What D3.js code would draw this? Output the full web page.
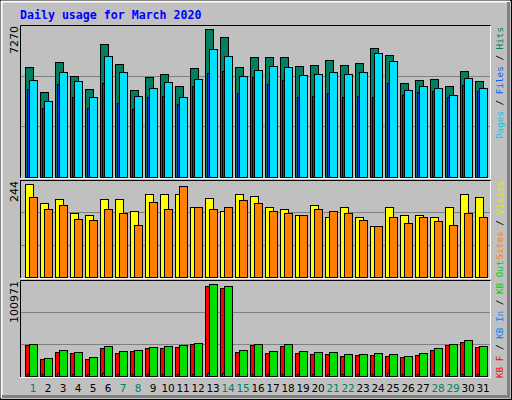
<!DOCTYPE html>
<html><head><meta charset="utf-8">
<script src="https://cdn.jsdelivr.net/npm/d3@7"></script>
<style>body{margin:0;background:#fff}svg{display:block}</style>
</head><body><div id="chart"></div>
<script>
const days = d3.range(1, 32);
const weekend = [1, 7, 8, 14, 15, 21, 22, 28, 29];
const hits = [5261,4066,5500,4831,4209,6361,5405,4161,4783,4926,4352,5213,7079,6696,5261,5740,5740,5740,5309,5357,5596,5357,5453,6170,5835,4496,4639,4687,4352,5070,4592];
const files = [4639,3635,5022,4592,3826,5787,5022,3874,4257,4544,3826,4687,6122,5787,4831,5118,5309,5261,4879,4926,5022,4926,5022,5931,5548,4161,4352,4257,3922,4735,4257];
const pages = [4209,3300,4448,3826,3300,4496,3539,3252,3826,3874,3492,4352,4974,5070,4018,4783,4448,4639,3826,3874,4018,3826,3874,3826,4496,3922,4066,4113,3826,4400,4113];
const visits = [233,185,195,162,155,195,195,167,208,210,210,177,198,165,208,203,175,172,157,180,150,175,152,129,175,155,155,152,177,208,200];
const sites = [200,172,182,147,144,172,162,132,188,172,228,175,170,175,193,185,167,160,157,172,167,162,144,129,150,137,150,142,132,162,150];
const kbF = [33000,18100,25500,24400,18100,29800,24400,26600,29800,29800,30800,34000,94600,92500,25500,33000,24400,31900,24400,23400,23400,21300,22300,22300,21300,20200,22300,27600,33000,36100,30800];
const kbIn = [2500,2000,3000,2000,2000,3000,2000,2000,2000,2000,2000,2000,3000,3000,2000,2000,2500,2000,2000,2000,2000,2000,2000,2000,3000,2000,2000,2000,2000,2000,2000];
const kbOut = [34000,19100,27600,25500,20200,31900,26600,27600,30800,31900,32900,35100,96700,94600,27600,34000,26600,34000,26600,25500,25500,23400,23400,24400,23400,21300,24400,29800,34000,38300,31900];
const maxLabels = ["7270", "244", "100971"];

const W = 512, H = 400;
const svg = d3.select("#chart").append("svg").attr("width", W).attr("height", H);

// outer frame
svg.append("rect").attr("width", W).attr("height", H).attr("fill", "#c0c0c0");
svg.append("rect").attr("x", 0.5).attr("y", 0.5).attr("width", W - 1).attr("height", H - 1).attr("fill", "none").attr("stroke", "#000");
svg.append("path").attr("d", `M1.5,${H - 2}V1.5H${W - 2}`).attr("fill", "none").attr("stroke", "#fff").attr("stroke-width", 2);
svg.append("path").attr("d", `M${W - 3.5},2V${H - 3.5}H2`).attr("fill", "none").attr("stroke", "#808080").attr("stroke-width", 3);

svg.append("text").attr("x", 20).attr("y", 19)
  .attr("font-family", "DejaVu Sans Mono").attr("font-weight", "bold").attr("font-size", 11.6)
  .attr("fill", "#0000ff").text("Daily usage for March 2020");

const x = d3.scaleLinear().domain([1, 31]).range([25, 475]);

// legend: anchor "end" reads down to pos, "start" reads up from pos
const panels = [
  { top: 25, bottom: 178, max: 7270, label: maxLabels[0], lpos: 27, anchor: "end",
    series: [[hits, "#008060", 0, 8], [pages, "#0040ff", 2, 4], [files, "#00e0ff", 4, 8]],
    legend: [["Pages", "#00c8f0"], [" / ", "#000"], ["Files", "#0060ff"], [" / ", "#000"], ["Hits", "#008060"]] },
  { top: 180, bottom: 278, max: 244, label: maxLabels[1], lpos: 181, anchor: "end",
    series: [[visits, "#ffff00", 0, 8], [sites, "#ff8000", 4, 8]],
    legend: [["Sites", "#ff8000"], [" / ", "#000"], ["Visits", "#e8e800"]] },
  { top: 280, bottom: 377, max: 100971, label: maxLabels[2], lpos: 378, anchor: "start",
    series: [[kbF, "#ff0000", 0, 8], [kbIn, "#0080ff", 2, 3], [kbOut, "#00e000", 4, 8]],
    legend: [["KB F", "#ff0000"], [" / ", "#000"], ["KB In", "#0080ff"], [" / ", "#000"], ["KB Out", "#00d000"]] }
];

panels.forEach(p => {
  const y = d3.scaleLinear().domain([0, p.max]).range([p.bottom - 1, p.top]);
  const g = svg.append("g");
  g.append("path").attr("d", `M20.5,${p.bottom}V${p.top + 0.5}H490.5`).attr("fill", "none").attr("stroke", "#000");
  g.append("path").attr("d", `M490.5,${p.top + 1}V${p.bottom + 0.5}H20`).attr("fill", "none").attr("stroke", "#fff");
  [1 / 3, 2 / 3].forEach(f => {
    g.append("line").attr("x1", 21).attr("x2", 490)
      .attr("y1", Math.round(y(p.max * f)) + 0.5).attr("y2", Math.round(y(p.max * f)) + 0.5)
      .attr("stroke", "#808080");
  });
  p.series.forEach(([vals, color, off, w]) => {
    g.selectAll(null).data(days).join("rect")
      .attr("x", d => x(d) + off + 0.5)
      .attr("y", (d, i) => Math.round(y(vals[i])) + 0.5)
      .attr("width", w)
      .attr("height", (d, i) => Math.max(1, Math.round(y(0) - y(vals[i]))))
      .attr("fill", color).attr("stroke", "#000");
  });
  svg.append("text").attr("transform", `translate(18,${p.top + 1}) rotate(-90)`)
    .attr("text-anchor", "end").attr("font-family", "DejaVu Sans").attr("font-size", 11)
    .attr("fill", "#000").text(p.label);
  const t = svg.append("text").attr("transform", `translate(503,${p.lpos}) rotate(-90)`)
    .attr("text-anchor", p.anchor).attr("font-family", "DejaVu Sans Mono").attr("font-size", 9.3);
  p.legend.forEach(([s, c]) => t.append("tspan").attr("fill", c).attr("xml:space", "preserve").text(s));
});

svg.selectAll(".day").data(days).join("text")
  .attr("x", d => x(d) + 8).attr("y", 392)
  .attr("text-anchor", "middle").attr("font-family", "DejaVu Sans").attr("font-size", 10.5)
  .attr("letter-spacing", -0.3)
  .attr("fill", d => weekend.includes(d) ? "#008060" : "#000").text(d => d);
</script></body></html>
